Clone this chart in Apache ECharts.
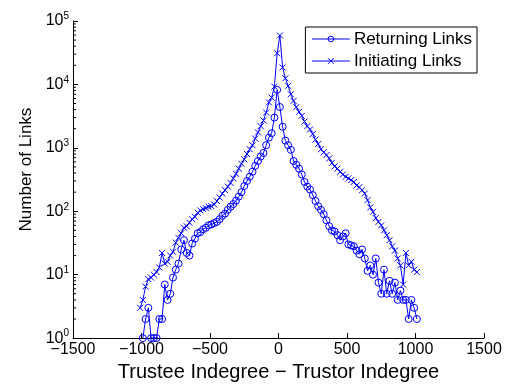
<!DOCTYPE html>
<html>
<head>
    <meta charset="utf-8">
    <title>Links</title>
    <script src="https://cdn.jsdelivr.net/npm/echarts@6/dist/echarts.min.js"></script>
    <style>
        html, body { margin: 0; padding: 0; background: #fff; }
        #main { width: 513px; height: 387px; }
    </style>
</head>
<body>
    <div id="main"></div>
    <script type="text/javascript">
        // indegree difference bins (step 20)
        var diffs = [];
        for (var d = -1010; d <= 1010; d += 20) diffs.push(d);

        var returningLinks = [
            null, 1, 2, 3, 1, 1, 1, 2, 2, 7,
            4, 5, 9, 12, 15, 25, 35, 22, 20, 31,
            37, 45, 47, 52, 55, 60, 62, 65, 68, 75,
            85, 92, 105, 118, 130, 147, 170, 200, 250, 300,
            350, 420, 520, 620, 730, 830, 1100, 1450, 1700, 3000,
            8200, 4400, 2150, 1300, 1100, 930, 620, 540, 470, 380,
            290, 245, 220, 180, 145, 120, 105, 90, 72, 58,
            50, 48, 42, 35, 40, 45, 30, 29, 28, 24,
            21, 25, 18, 11.5, 14, 10, 18, 7.5, 5, 12,
            5, 8, 5, 7.5, 4, 5.6, 4, 4, 2, 4,
            3, 2
        ];

        var initiatingLinks = [
            3, 4, 6.5, 8.5, 9, 10, 11, 13, 22, 15,
            16, 20, 23, 32, 38, 45, 55, 58, 66, 75,
            82, 95, 103, 108, 112, 118, 120, 128, 145, 165,
            190, 215, 245, 280, 330, 390, 470, 560, 660, 800,
            950, 1100, 1400, 1750, 2200, 2700, 3600, 5200, 6200, 9200,
            31000, 59000, 18500, 12500, 9500, 7000, 5500, 4400, 3700, 3200,
            2600, 2200, 1950, 1650, 1350, 1150, 950, 850, 770, 680,
            580, 510, 470, 420, 380, 350, 330, 310, 290, 255,
            240, 215, 190, 150, 115, 98, 78, 68, 60, 50,
            42, 35, 28, 24, 18, 14, 7, 22, 14, 16,
            12, 11
        ];

        var xTicks = [-1500, -1000, -500, 0, 500, 1000, 1500];
        var yDecades = [1, 10, 100, 1000, 10000, 100000];

        // log minor tick values (2..9 x 10^k)
        var minorTicks = [];
        yDecades.slice(0, -1).forEach(function (base) {
            for (var m = 2; m <= 9; m++) minorTicks.push(m * base);
        });

        function pairs(ys) {
            return diffs.map(function (x, i) { return [x, ys[i]]; });
        }

        var blue = '#0000ff';
        var font = 'Liberation Sans, Arial, sans-serif';
        var chart = echarts.init(document.getElementById('main'));

        var option = {
            animation: false,
            backgroundColor: '#fff',
            textStyle: { fontFamily: font },
            grid: { left: 73, right: 29, top: 21, bottom: 44 },
            legend: {
                data: ['Returning Links', 'Initiating Links'],
                orient: 'vertical',
                right: 36,
                top: 27,
                backgroundColor: '#fff',
                borderColor: '#000',
                borderWidth: 1,
                borderRadius: 0,
                padding: [2, 5, 2, 6],
                itemGap: 2,
                itemWidth: 38,
                itemHeight: 7,
                itemStyle: { borderWidth: 1 },
                lineStyle: { width: 1 },
                textStyle: { fontSize: 17, lineHeight: 20, color: '#000', fontFamily: font, padding: [0, 0, 0, -1] }
            },
            xAxis: {
                type: 'value',
                min: xTicks[0],
                max: xTicks[xTicks.length - 1],
                interval: 500,
                name: 'Trustee Indegree \u2212 Trustor Indegree',
                nameLocation: 'middle',
                nameGap: 21,
                nameTextStyle: { fontSize: 20, color: '#000', fontFamily: font },
                axisLine: { onZero: false, lineStyle: { color: '#000', width: 1 } },
                axisTick: { inside: true, length: 5, lineStyle: { color: '#000' } },
                axisLabel: {
                    fontSize: 16, color: '#000', margin: 3,
                    formatter: function (v) { return v < 0 ? '\u2212' + Math.abs(v) : String(v); }
                },
                splitLine: { show: false }
            },
            yAxis: {
                type: 'log',
                logBase: 10,
                min: yDecades[0],
                max: yDecades[yDecades.length - 1],
                name: 'Number of Links',
                nameLocation: 'middle',
                nameGap: 36,
                nameTextStyle: { fontSize: 17, color: '#000', fontFamily: font, padding: [0, 0, 0, 20] },
                axisLine: { show: true, onZero: false, lineStyle: { color: '#000', width: 1 } },
                axisTick: { show: true, inside: true, length: 5, lineStyle: { color: '#000' } },
                axisLabel: {
                    color: '#000', margin: 4,
                    formatter: function (v) {
                        return '{b|10}{s|' + Math.round(Math.log10(v)) + '}';
                    },
                    rich: {
                        b: { fontSize: 16, color: '#000', fontFamily: font },
                        s: { fontSize: 10, color: '#000', fontFamily: font, verticalAlign: 'top', padding: [0, 0, 9, 0] }
                    }
                },
                splitLine: { show: false }
            },
            series: [
                {
                    name: 'Returning Links',
                    type: 'line',
                    data: pairs(returningLinks),
                    symbol: 'circle',
                    symbolSize: 7,
                    lineStyle: { color: blue, width: 1 },
                    itemStyle: { color: 'rgba(0,0,0,0)', borderColor: blue, borderWidth: 1 },
                    connectNulls: false
                },
                {
                    name: 'Initiating Links',
                    type: 'line',
                    data: pairs(initiatingLinks),
                    symbol: 'path://M0,0L10,10M10,0L0,10',
                    symbolSize: 6,
                    lineStyle: { color: blue, width: 1 },
                    itemStyle: { color: 'rgba(0,0,0,0)', borderColor: blue, borderWidth: 1 }
                },
                {
                    name: 'minor',
                    type: 'custom',
                    silent: true,
                    data: minorTicks.map(function (v) { return [xTicks[0], v]; }),
                    renderItem: function (params, api) {
                        var p = api.coord([api.value(0), api.value(1)]);
                        return {
                            type: 'line',
                            shape: { x1: p[0], y1: p[1], x2: p[0] + 3, y2: p[1] },
                            style: { stroke: '#000', lineWidth: 1 }
                        };
                    }
                }
            ]
        };
        chart.setOption(option);
    </script>
</body>
</html>
